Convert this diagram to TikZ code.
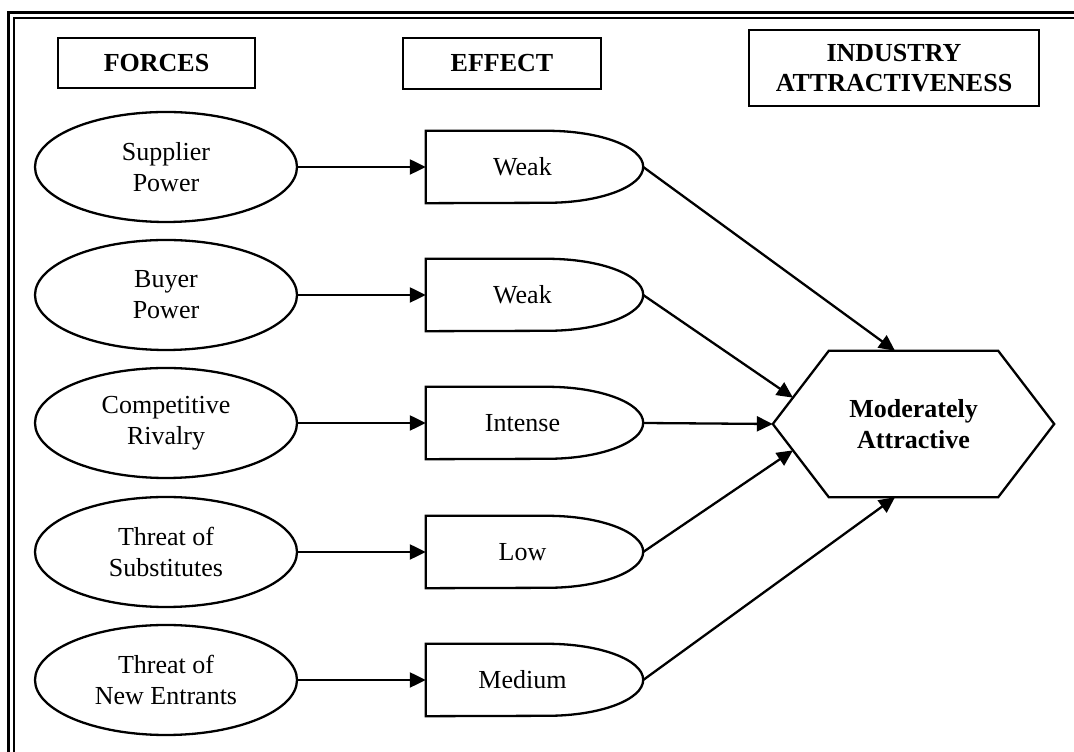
\documentclass[tikz,border=0pt]{standalone}
\usepackage{fontspec}
\setmainfont{Liberation Serif}
\usetikzlibrary{arrows.meta,calc,shapes.geometric}

% outline of an effect box: straight left part, half-ellipse on the right
\newcommand\effectshape[1]{%
  \draw[outline] (#1.north west) -- ([xshift=-96pt]#1.north east)
    arc[start angle=90, end angle=-90, x radius=96pt, y radius=36pt]
    -- (#1.south west) -- cycle;}

\begin{document}
\begin{tikzpicture}[x=1pt,y=1pt,
  every node/.style={font=\fontsize{26}{31}\selectfont, align=center},
  header/.style={draw, line width=2.3pt, inner sep=0pt,
    font=\fontsize{26}{30}\selectfont\bfseries},
  force/.style={draw, ellipse, line width=2.3pt, minimum width=262pt,
    minimum height=110pt, inner sep=0pt},
  effectbox/.style={minimum width=217pt, minimum height=72pt, inner sep=0pt},
  hexbox/.style={minimum width=281pt, minimum height=146pt, inner sep=0pt,
    font=\fontsize{26}{31}\selectfont\bfseries},
  outline/.style={line width=2.3pt, line join=miter},
  link/.style={line width=2.3pt, -{Triangle[length=16pt,width=15pt]}},
]
\useasboundingbox (0,0) rectangle (1074,752);

% double frame (top and left sides)
\draw[line width=3.5pt] (8.5,0) -- (8.5,739.5) -- (1080,739.5);
\draw[line width=1.6pt] (14,0) -- (14,734) -- (1080,734);

% column headers
\node[header, minimum width=197pt, minimum height=50pt] (hf) at (156.5,689) {FORCES};
\node[header, minimum width=198pt, minimum height=51pt] (he) at (502,688.5) {EFFECT};
\node[header, minimum width=290pt, minimum height=76pt] (hi) at (894,684) {INDUSTRY\\ATTRACTIVENESS};

% forces
\node[force] (f1) at (166,585) {Supplier\\Power};
\node[force] (f2) at (166,457) {Buyer\\Power};
\node[force] (f3) at (166,329) {Competitive\\Rivalry};
\node[force] (f4) at (166,200) {Threat of\\Substitutes};
\node[force] (f5) at (166,72)  {Threat of\\New Entrants};

% effects
\node[effectbox] (e1) at (534.5,585) {Weak\hspace*{24pt}};
\node[effectbox] (e2) at (534.5,457) {Weak\hspace*{24pt}};
\node[effectbox] (e3) at (534.5,329) {Intense\hspace*{24pt}};
\node[effectbox] (e4) at (534.5,200) {Low\hspace*{24pt}};
\node[effectbox] (e5) at (534.5,72)  {Medium\hspace*{24pt}};
\foreach \n in {e1,e2,e3,e4,e5} {\effectshape{\n}}

% result
\node[hexbox] (hex) at (913.5,328) {Moderately\\Attractive};
\draw[outline] (hex.west) -- ([xshift=56pt]hex.north west)
  -- ([xshift=-56pt]hex.north east) -- (hex.east)
  -- ([xshift=-56pt]hex.south east) -- ([xshift=56pt]hex.south west) -- cycle;
\coordinate (hTL) at ([xshift=56pt]hex.north west);
\coordinate (hBL) at ([xshift=56pt]hex.south west);

% forces to effects
\foreach \i in {1,...,5} {\draw[link] (f\i.east) -- (e\i.west);}

% effects to result
\draw[link] (e1.east) -- ([xshift=-18.5pt]hex.north);
\draw[link] (e2.east) -- ($(hex.west)!0.36!(hTL)$);
\draw[link] (e3.east) -- (hex.west);
\draw[link] (e4.east) -- ($(hex.west)!0.36!(hBL)$);
\draw[link] (e5.east) -- ([xshift=-18.5pt]hex.south);
\end{tikzpicture}
\end{document}
